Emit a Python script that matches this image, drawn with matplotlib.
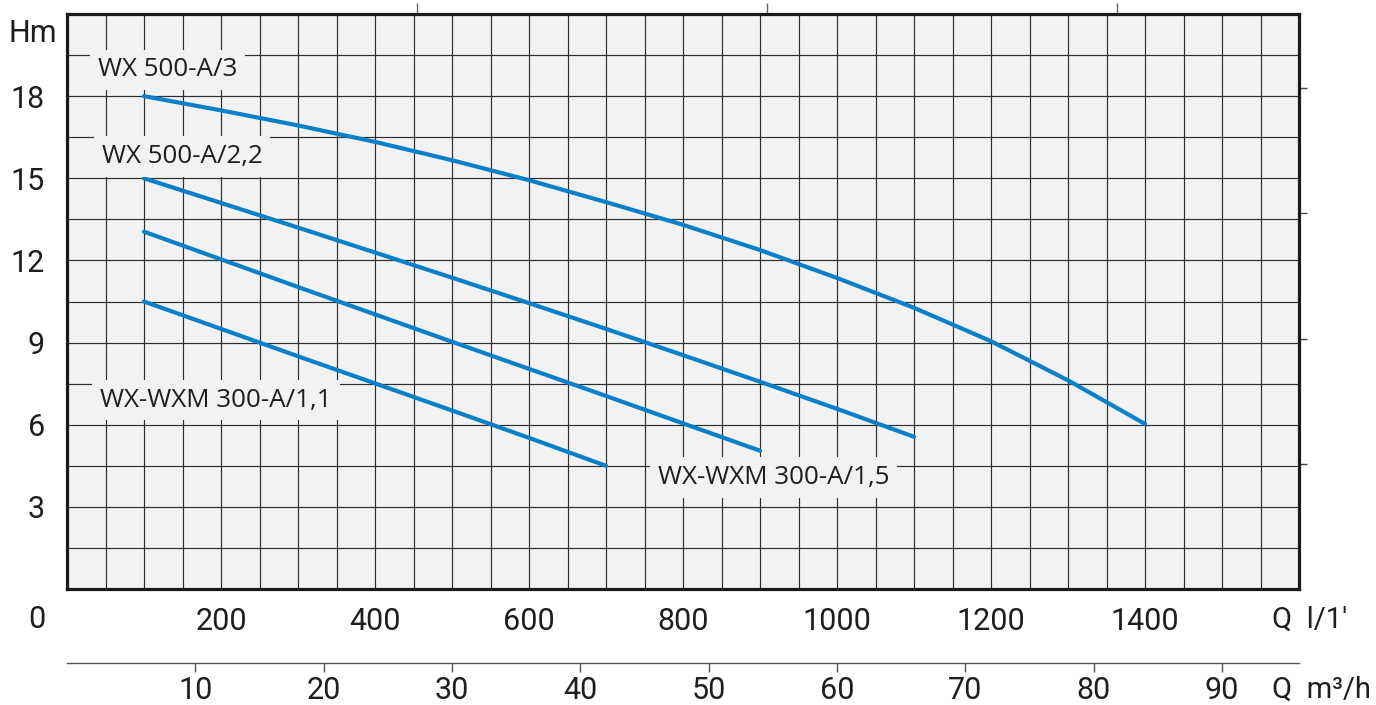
import matplotlib
matplotlib.use("Agg")
import matplotlib.pyplot as plt
import numpy as np

# ---------------- data ----------------
q_a3 = [100, 200, 300, 400, 500, 600, 700, 800, 900, 1000, 1100, 1200, 1300, 1400]
h_a3 = [18.0, 17.48, 16.93, 16.33, 15.66, 14.93, 14.13, 13.3, 12.38, 11.36, 10.27, 9.05, 7.62, 6.03]

q_a22 = [100, 200, 300, 400, 500, 600, 700, 800, 900, 1000, 1100]
h_a22 = [15.0, 14.1, 13.2, 12.29, 11.37, 10.44, 9.5, 8.54, 7.57, 6.58, 5.56]

q_a15 = [100, 200, 300, 400, 500, 600, 700, 800, 900]
h_a15 = [13.05, 12.04, 11.03, 10.03, 9.03, 8.04, 7.05, 6.05, 5.05]

q_a11 = [100, 200, 300, 400, 500, 600, 700]
h_a11 = [10.5, 9.5, 8.5, 7.51, 6.52, 5.52, 4.5]

labels = ["WX 500-A/3", "WX 500-A/2,2", "WX-WXM 300-A/1,5", "WX-WXM 300-A/1,1"]
label_pos = [(40, 18.96), (45, 15.8), (767, 4.07), (43, 6.9)]

x_ticks = [200, 400, 600, 800, 1000, 1200, 1400]
y_ticks = [3, 6, 9, 12, 15, 18]
m3h_ticks = [10, 20, 30, 40, 50, 60, 70, 80, 90]
gpm_ticks = [100, 200, 300]
ft_ticks = [15, 30, 45, 60]

# ---------------- style ----------------
W, H = 1376, 705
fig = plt.figure(figsize=(W / 100, H / 100), dpi=100)
fig.patch.set_facecolor("white")

L, R, T, B = 67, 1299, 14, 589
ax = fig.add_axes([L / W, 1 - B / H, (R - L) / W, (B - T) / H])
bg = "#f2f2f2"
ax.set_facecolor(bg)
ax.set_xlim(0, 1600)
ax.set_ylim(0, 21)

num_font = ["Roboto", "DejaVu Sans"]
lab_font = ["Open Sans", "DejaVu Sans"]
txt_col = "#1e1e1e"

# grid
ax.set_xticks(np.arange(0, 1601, 50), minor=True)
ax.set_yticks(np.arange(0, 21.1, 1.5), minor=True)
ax.set_xticks(x_ticks)
ax.set_yticks(y_ticks)
ax.grid(which="both", color="#2e2e2e", lw=0.85)
ax.set_axisbelow(True)
ax.tick_params(which="both", length=0)
ax.tick_params(axis="x", pad=13, labelsize=22, labelcolor=txt_col)
ax.tick_params(axis="y", pad=16, labelsize=22, labelcolor=txt_col)
for lab in ax.get_xticklabels() + ax.get_yticklabels():
    lab.set_family(num_font)

for s in ax.spines.values():
    s.set_linewidth(2.3)
    s.set_color("#1a1a1a")

# curves
col = "#0b80c9"
for q, h in [(q_a3, h_a3), (q_a22, h_a22), (q_a15, h_a15), (q_a11, h_a11)]:
    ax.plot(q, h, color=col, lw=3.0, solid_capstyle="round", solid_joinstyle="round", zorder=4)

for text, (x, y) in zip(labels, label_pos):
    ax.text(x, y, text, ha="left", va="center", fontsize=18.7, family=lab_font, color=txt_col,
            zorder=5, bbox=dict(boxstyle="square,pad=0.3", fc=bg, ec="none"))

# secondary m3/h axis below
sec = ax.secondary_xaxis((B - 663) / (B - T), functions=(lambda q: q * 0.06, lambda m: m / 0.06))
sec.set_xticks(m3h_ticks)
sec.tick_params(direction="out", length=6.5, width=1.0, color="#555555", pad=3,
                labelsize=22, labelcolor=txt_col)
for lab in sec.get_xticklabels():
    lab.set_family(num_font)
for k, s in sec.spines.items():
    s.set_color("#555555")
    s.set_linewidth(1.0)
sec.spines["top"].set_visible(False)

# top imperial gpm ticks
top = ax.secondary_xaxis("top", functions=(lambda q: q / 4.54609, lambda g: g * 4.54609))
top.set_xticks(gpm_ticks)
top.set_xticklabels([])
top.tick_params(direction="out", length=8, width=1.0, color="#666666")
top.spines["top"].set_visible(False)

# right feet ticks
rgt = ax.secondary_yaxis("right", functions=(lambda m: m / 0.3048, lambda f: f * 0.3048))
rgt.set_yticks(ft_ticks)
rgt.set_yticklabels([])
rgt.tick_params(direction="out", length=6, width=1.0, color="#444444")
rgt.spines["right"].set_visible(False)

# extra texts
fig.text(45 / W, 1 - 620 / H, "0", ha="right", va="center", fontsize=22, family=num_font, color=txt_col)
fig.text(33 / W, 1 - 34 / H, "Hm", ha="center", va="center", fontsize=22,
         family=["Roboto", "DejaVu Sans"], color=txt_col)
fig.text(1272 / W, 1 - 620 / H, "Q  l/1′", ha="left", va="center", fontsize=21, family=num_font, color=txt_col)
fig.text(1272 / W, 1 - 690 / H, "Q  m³/h", ha="left", va="center", fontsize=21, family=num_font, color=txt_col)

fig.savefig("out.png", dpi=100)
